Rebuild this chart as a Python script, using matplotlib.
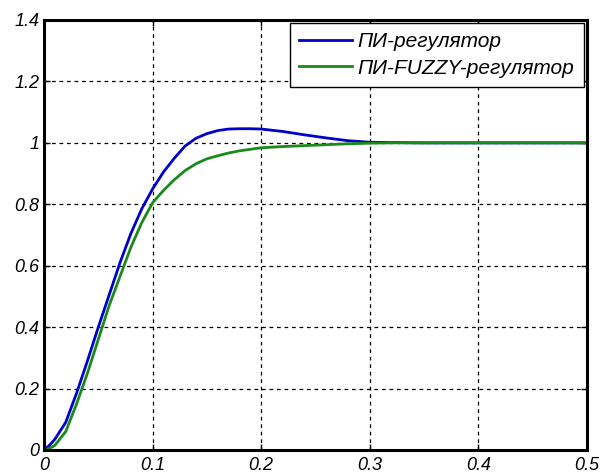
import matplotlib.pyplot as plt

plt.rcParams['font.family'] = ['Liberation Sans', 'DejaVu Sans']

t = [0, 0.005, 0.01, 0.02, 0.03, 0.04, 0.05, 0.06, 0.07, 0.08, 0.09, 0.1,
     0.11, 0.12, 0.13, 0.14, 0.15, 0.16, 0.17, 0.18, 0.19, 0.2, 0.22, 0.24,
     0.26, 0.28, 0.3, 0.32, 0.35, 0.4, 0.45, 0.5]

pi_reg = [0, 0.015, 0.035, 0.09, 0.185, 0.29, 0.40, 0.505, 0.61, 0.705, 0.785, 0.85,
          0.905, 0.95, 0.99, 1.015, 1.03, 1.04, 1.045, 1.046, 1.046, 1.045, 1.037, 1.026,
          1.016, 1.007, 1.002, 1.001, 1.0, 1.0, 1.0, 1.0]

fuzzy_reg = [0, 0.005, 0.015, 0.06, 0.15, 0.25, 0.36, 0.47, 0.565, 0.66, 0.74, 0.805,
             0.845, 0.88, 0.91, 0.932, 0.948, 0.958, 0.967, 0.974, 0.979, 0.984, 0.988, 0.991,
             0.994, 0.997, 0.999, 1.0, 1.0, 1.0, 1.0, 1.0]

labels = ["ПИ-регулятор", "ПИ-FUZZY-регулятор"]

fig = plt.figure(figsize=(6.05, 4.76), dpi=100)
ax = fig.add_axes([44 / 605, 1 - 450 / 476, 543 / 605, 430 / 476])

ax.plot(t, pi_reg, color="#0000cc", lw=2, label=labels[0])
ax.plot(t, fuzzy_reg, color="#1a8a1a", lw=2, label=labels[1])

ax.set_xlim(0, 0.5)
ax.set_ylim(0, 1.4)
ax.set_xticks([0, 0.1, 0.2, 0.3, 0.4, 0.5])
ax.set_xticklabels(["0", "0.1", "0.2", "0.3", "0.4", "0.5"])
ax.set_yticks([0, 0.2, 0.4, 0.6, 0.8, 1, 1.2, 1.4])
ax.set_yticklabels(["0", "0.2", "0.4", "0.6", "0.8", "1", "1.2", "1.4"])

ax.grid(True, color="black", linestyle=(0, (3, 3)), linewidth=0.9)
ax.tick_params(direction="in", length=4, width=1, labelsize=13, top=True, right=True)
ax.tick_params(axis="x", pad=5)
for lab in ax.get_xticklabels() + ax.get_yticklabels():
    lab.set_fontstyle("italic")
for s in ax.spines.values():
    s.set_linewidth(2.2)

leg = ax.legend(loc="upper right", fancybox=False, framealpha=1, edgecolor="black",
                prop={"style": "italic", "size": 15}, handlelength=2.5,
                handletextpad=0.3, borderaxespad=0.15, labelspacing=0.35,
                borderpad=0.45)
leg.get_frame().set_linewidth(1)

fig.savefig("out.png")
